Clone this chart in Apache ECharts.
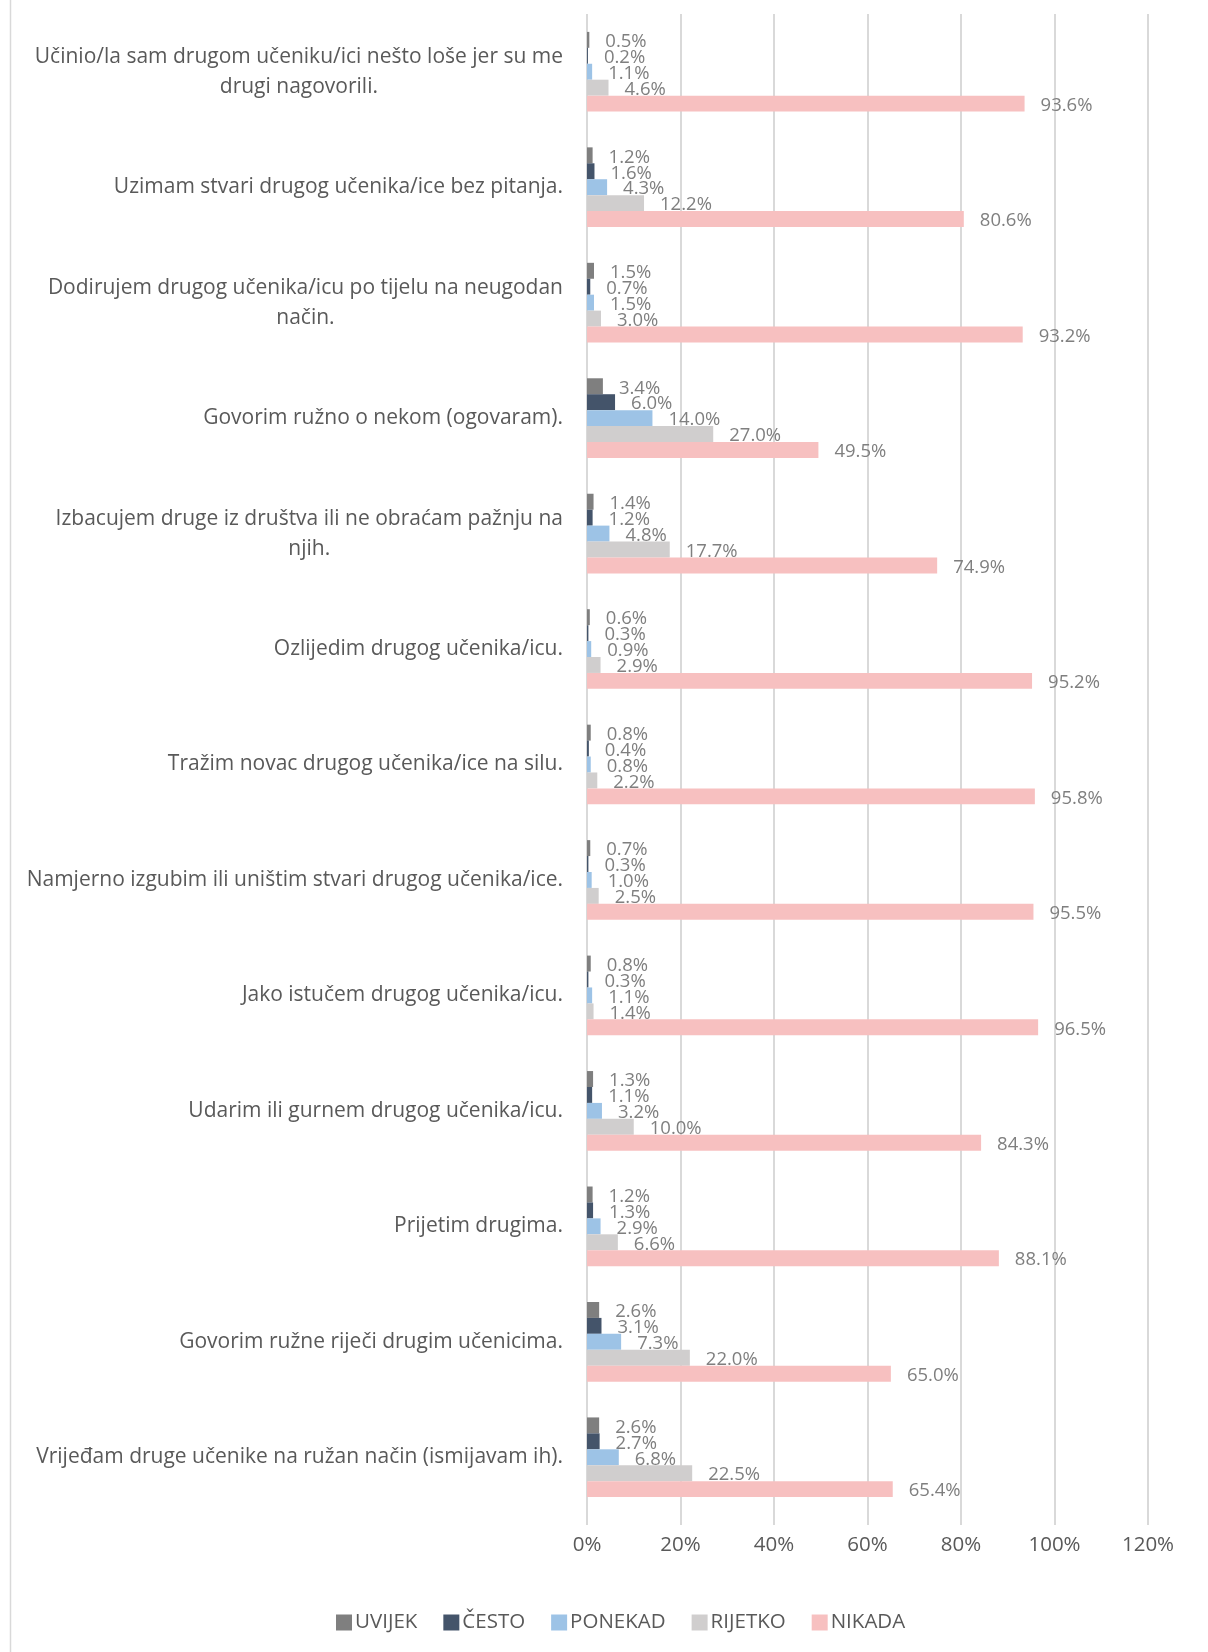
<!DOCTYPE html>
<html>
<head>
<meta charset="utf-8">
<script src="https://cdn.jsdelivr.net/npm/echarts@6/dist/echarts.min.js"></script>
<style>
  html, body { margin: 0; padding: 0; background: #fff; }
  #chart { width: 1208px; height: 1652px; }
</style>
</head>
<body>
<div id="chart"></div>
<script>
// categories, top to bottom
var categories = [
  'Učinio/la sam drugom učeniku/ici nešto loše jer su me\ndrugi nagovorili.',
  'Uzimam stvari drugog učenika/ice bez pitanja.',
  'Dodirujem drugog učenika/icu po tijelu na neugodan\nnačin.',
  'Govorim ružno o nekom (ogovaram).',
  'Izbacujem druge iz društva ili ne obraćam pažnju na\nnjih.',
  'Ozlijedim drugog učenika/icu.',
  'Tražim novac drugog učenika/ice na silu.',
  'Namjerno izgubim ili uništim stvari drugog učenika/ice.',
  'Jako istučem drugog učenika/icu.',
  'Udarim ili gurnem drugog učenika/icu.',
  'Prijetim drugima.',
  'Govorim ružne riječi drugim učenicima.',
  'Vrijeđam druge učenike na ružan način (ismijavam ih).'
];

var seriesNames = ['UVIJEK', 'ČESTO', 'PONEKAD', 'RIJETKO', 'NIKADA'];
var seriesColors = ['#7f7f7f', '#44546a', '#9dc3e6', '#d0cece', '#f7c0c0'];

var uvijek  = [0.5, 1.2, 1.5, 3.4, 1.4, 0.6, 0.8, 0.7, 0.8, 1.3, 1.2, 2.6, 2.6];
var cesto   = [0.2, 1.6, 0.7, 6.0, 1.2, 0.3, 0.4, 0.3, 0.3, 1.1, 1.3, 3.1, 2.7];
var ponekad = [1.1, 4.3, 1.5, 14.0, 4.8, 0.9, 0.8, 1.0, 1.1, 3.2, 2.9, 7.3, 6.8];
var rijetko = [4.6, 12.2, 3.0, 27.0, 17.7, 2.9, 2.2, 2.5, 1.4, 10.0, 6.6, 22.0, 22.5];
var nikada  = [93.6, 80.6, 93.2, 49.5, 74.9, 95.2, 95.8, 95.5, 96.5, 84.3, 88.1, 65.0, 65.4];

var xTicks = [0, 20, 40, 60, 80, 100, 120];

var allData = [uvijek, cesto, ponekad, rijetko, nikada];

var font = '"Open Sans", "Noto Sans", sans-serif';

var chart = echarts.init(document.getElementById('chart'));

chart.setOption({
  animation: false,
  textStyle: { fontFamily: font },
  grid: { left: 587, right: 60, top: 14, bottom: 137, containLabel: false },
  legend: {
    data: seriesNames,
    left: 331,
    top: 1607,
    itemWidth: 16,
    itemHeight: 16,
    itemGap: 26,
    icon: 'rect',
    textStyle: { fontFamily: font, fontSize: 20.5, color: '#595959', padding: [0, 0, 0, -2] }
  },
  xAxis: {
    type: 'value',
    min: xTicks[0],
    max: xTicks[xTicks.length - 1],
    interval: 20,
    axisLine: { show: false },
    // ticks used to extend the gridlines a bit below the last category
    axisTick: { show: true, length: 10, lineStyle: { color: '#d9d9d9', width: 2 } },
    splitLine: { lineStyle: { color: '#d9d9d9', width: 2 } },
    axisLabel: {
      formatter: '{value}%',
      margin: 20,
      fontSize: 20.5,
      color: '#595959',
      fontFamily: font
    }
  },
  yAxis: {
    type: 'category',
    inverse: true,
    data: categories,
    axisLine: { show: false },
    axisTick: { show: false },
    axisLabel: {
      margin: 24,
      fontSize: 21,
      color: '#595959',
      fontFamily: font,
      lineHeight: 30,
      formatter: function (v) {
        return v.split('\n').map(function (s) { return '{c|' + s + '}'; }).join('\n');
      },
      rich: {
        c: { align: 'center', fontSize: 21, color: '#595959', fontFamily: font, lineHeight: 30 }
      }
    }
  },
  graphic: [{
    type: 'line',
    shape: { x1: 10.5, y1: 0, x2: 10.5, y2: 1652 },
    style: { stroke: '#d9d9d9', lineWidth: 1.5 }
  }],
  series: seriesNames.map(function (name, i) {
    return {
      name: name,
      type: 'bar',
      data: allData[i],
      barGap: '0%',
      barCategoryGap: '31%',
      itemStyle: { color: seriesColors[i] },
      label: {
        show: true,
        position: 'right',
        distance: 16,
        offset: [0, 2],
        formatter: function (p) { return p.value.toFixed(1) + '%'; },
        fontSize: 18.5,
        color: '#7f7f7f',
        fontFamily: font
      }
    };
  })
});
</script>
</body>
</html>
